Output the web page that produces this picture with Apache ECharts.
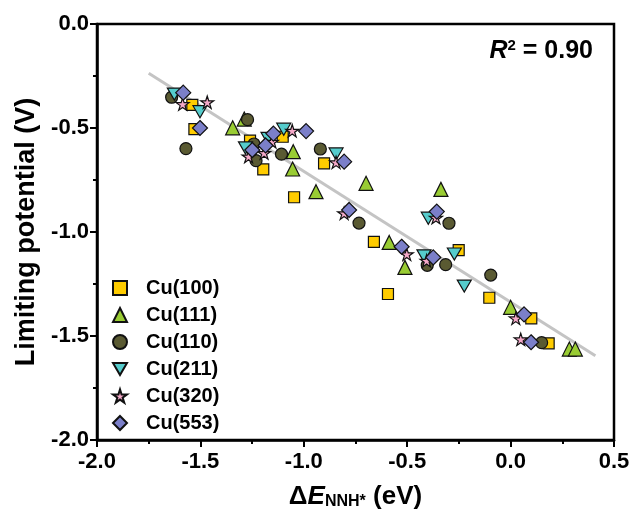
<!DOCTYPE html>
<html>
<head>
<meta charset="utf-8">
<script src="https://cdn.jsdelivr.net/npm/echarts@6/dist/echarts.min.js"></script>
<style>
  html, body { margin: 0; padding: 0; background: #fff; }
  #main { width: 633px; height: 527px; }
</style>
</head>
<body>
<div id="main"></div>
<script>
// data: [dE_NNH*, limiting potential]
var cu100 = [[-1.539, -0.389], [-1.529, -0.505], [-1.260, -0.561], [-1.102, -0.542], [-1.196, -0.699],
    [-0.902, -0.670], [-1.047, -0.833], [-0.661, -1.047], [-0.251, -1.087], [-0.593, -1.298],
    [-0.103, -1.316], [0.100, -1.415], [0.184, -1.535]];
var cu111 = [[-1.344, -0.499], [-1.288, -0.457], [-1.051, -0.614], [-1.054, -0.697], [-0.941, -0.806],
    [-0.699, -0.766], [-0.337, -0.795], [-0.587, -1.050], [-0.511, -1.170], [0.000, -1.362],
    [0.284, -1.563], [0.313, -1.563]];
var cu110 = [[-1.639, -0.352], [-1.570, -0.599], [-1.272, -0.460], [-1.241, -0.577], [-1.231, -0.657],
    [-1.108, -0.626], [-0.920, -0.601], [-0.733, -0.957], [-0.298, -0.958], [-0.403, -1.160],
    [-0.314, -1.157], [-0.096, -1.207], [0.150, -1.532]];
var cu211 = [[-1.626, -0.337], [-1.502, -0.422], [-1.282, -0.596], [-1.173, -0.550], [-1.097, -0.506],
    [-0.844, -0.625], [-0.398, -0.934], [-0.419, -1.115], [-0.272, -1.106], [-0.224, -1.260]];
var cu320 = [[-1.586, -0.385], [-1.467, -0.376], [-1.267, -0.637], [-1.192, -0.620], [-1.154, -0.566],
    [-1.056, -0.513], [-0.844, -0.665], [-0.805, -0.910], [-0.361, -0.931], [-0.502, -1.107],
    [-0.406, -1.138], [0.025, -1.415], [0.049, -1.516]];
var cu553 = [[-1.583, -0.330], [-1.502, -0.500], [-1.249, -0.606], [-1.185, -0.584], [-1.147, -0.527],
    [-0.989, -0.515], [-0.805, -0.662], [-0.781, -0.894], [-0.357, -0.902], [-0.527, -1.071],
    [-0.374, -1.122], [0.065, -1.396], [0.099, -1.530]];

// linear fit ends
var fitX = [-1.75, 0.41];
var fitY = [-0.237, -1.595];

var names = ['Cu(100)', 'Cu(111)', 'Cu(110)', 'Cu(211)', 'Cu(320)', 'Cu(553)'];

var starPath = 'path://M50,0 L61,35 L98,35 L68,57 L79,91 L50,70 L21,91 L32,57 L2,35 L39,35 Z';
var downTri = 'path://M0,0 L200,0 L100,173 Z';
var font = 'Liberation Sans, Arial, sans-serif';

function pts(name, data, symbol, size, color) {
    return {
        name: name,
        type: 'scatter',
        data: data,
        symbol: symbol,
        symbolSize: size,
        symbolKeepAspect: true,
        itemStyle: { color: color, borderColor: '#111', borderWidth: 1.2, opacity: 1 },
        z: 3
    };
}

var myChart = echarts.init(document.getElementById('main'));

var option = {
    animation: false,
    backgroundColor: '#fff',
    grid: {
        left: 97, right: 19, top: 24, bottom: 87,
        show: true, borderColor: '#000', borderWidth: 2.5
    },
    legend: {
        orient: 'vertical',
        left: 107,
        top: 273,
        itemWidth: 14,
        itemHeight: 14,
        itemGap: 7,
        data: names,
        textStyle: { fontFamily: font, fontWeight: 'bold', fontSize: 20, color: '#000', lineHeight: 20, padding: [0, 0, 0, 14] }
    },
    xAxis: {
        type: 'value',
        min: -2.0,
        max: 0.5,
        interval: 0.5,
        name: '{a|Δ}{e|E}{s|NNH*}{a| (eV)}',
        nameLocation: 'middle',
        nameGap: 43,
        nameTextStyle: {
            rich: {
                a: { fontFamily: font, fontWeight: 'bold', fontSize: 26, color: '#000' },
                e: { fontFamily: font, fontWeight: 'bold', fontStyle: 'italic', fontSize: 26, color: '#000' },
                s: { fontFamily: font, fontWeight: 'bold', fontSize: 16, color: '#000', padding: [11, 0, 0, 0] }
            }
        },
        axisLine: { onZero: false, lineStyle: { color: '#000', width: 2.5 } },
        axisTick: { inside: false, length: 7, lineStyle: { width: 2, color: '#000' } },
        minorTick: { show: true, splitNumber: 2, length: 4, lineStyle: { width: 2, color: '#000' } },
        axisLabel: {
            margin: 11,
            fontFamily: font, fontWeight: 'bold', fontSize: 22, color: '#000',
            formatter: function (v) { return v.toFixed(1); }
        },
        splitLine: { show: false }
    },
    yAxis: {
        type: 'value',
        min: -2.0,
        max: 0.0,
        interval: 0.5,
        name: 'Limiting potential (V)',
        nameLocation: 'middle',
        nameGap: 57,
        nameTextStyle: { fontFamily: font, fontWeight: 'bold', fontSize: 27, color: '#000' },
        axisLine: { onZero: false, lineStyle: { color: '#000', width: 2.5 } },
        axisTick: { inside: false, length: 7, lineStyle: { width: 2, color: '#000' } },
        minorTick: { show: true, splitNumber: 2, length: 4, lineStyle: { width: 2, color: '#000' } },
        axisLabel: {
            margin: 8,
            fontFamily: font, fontWeight: 'bold', fontSize: 22, color: '#000',
            formatter: function (v) { return v.toFixed(1); }
        },
        splitLine: { show: false }
    },
    graphic: [{
        type: 'text',
        right: 40,
        top: 38,
        style: {
            text: '{i|R}{p|2}{n| = 0.90}',
            rich: {
                i: { fontFamily: font, fontWeight: 'bold', fontStyle: 'italic', fontSize: 25, fill: '#000' },
                p: { fontFamily: font, fontWeight: 'bold', fontSize: 15, fill: '#000', padding: [0, 0, 11, 0] },
                n: { fontFamily: font, fontWeight: 'bold', fontSize: 25, fill: '#000' }
            }
        }
    }],
    series: [
        {
            name: 'fit',
            type: 'line',
            data: [[fitX[0], fitY[0]], [fitX[1], fitY[1]]],
            symbol: 'none',
            lineStyle: { color: '#c4c4c4', width: 3 },
            z: 1,
            silent: true
        },
        pts(names[0], cu100, 'rect', 11, '#FFCC00'),
        pts(names[1], cu111, 'triangle', 14, '#99CC33'),
        pts(names[2], cu110, 'circle', 12, '#5A5A32'),
        pts(names[3], cu211, downTri, 14, '#55CCCC'),
        pts(names[4], cu320, starPath, 13, '#F5A9C9'),
        pts(names[5], cu553, 'diamond', 15, '#7B7FC9')
    ]
};

myChart.setOption(option);
</script>
</body>
</html>
